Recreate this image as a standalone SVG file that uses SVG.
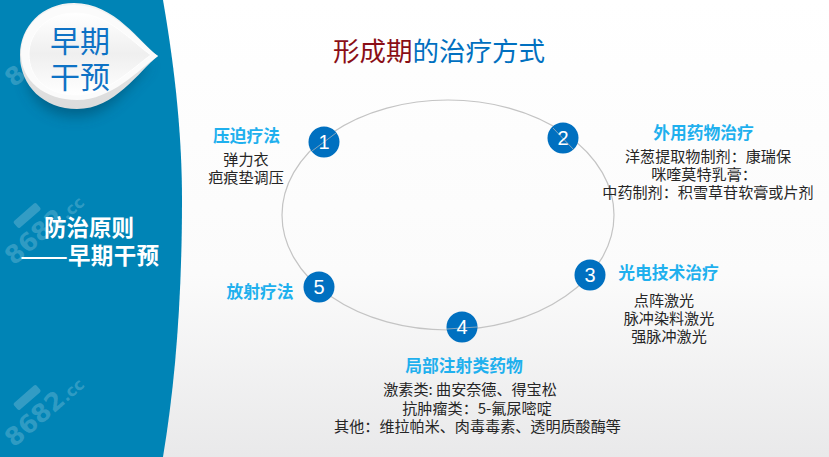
<svg xmlns="http://www.w3.org/2000/svg" width="829" height="457" viewBox="0 0 829 457">
<style>
.h{font-family:"Noto Sans CJK SC",sans-serif;font-size:16.8px;font-weight:700;fill:#1fb0ee;text-anchor:middle}
.b{font-family:"Noto Sans CJK SC",sans-serif;font-size:15.1px;fill:#262626;text-anchor:middle}
.n{font-family:"Liberation Sans",sans-serif;font-size:20px;fill:#fff;text-anchor:middle}
.c{fill:#0070c0}
.w{font-family:"DejaVu Sans",sans-serif;font-weight:700;font-size:25px;fill:#fff;fill-opacity:.2}
.w2{font-size:16px}
.t{fill:#fff;fill-opacity:.2}
</style>
<defs>
<linearGradient id="bg" x1="0" y1="0" x2="0" y2="1"><stop offset="0" stop-color="#fff"/><stop offset=".6" stop-color="#fbfbfb"/><stop offset="1" stop-color="#e9e9ea"/></linearGradient>
<linearGradient id="dr" x1="0" y1="0" x2="0" y2="1"><stop offset="0" stop-color="#fff"/><stop offset=".5" stop-color="#efefef"/><stop offset="1" stop-color="#fff"/></linearGradient>
<linearGradient id="dr2" x1="0" y1="0" x2="0" y2="1"><stop offset="0" stop-color="#f4f4f4"/><stop offset=".6" stop-color="#e2e2e2"/><stop offset="1" stop-color="#dcdcdc"/></linearGradient>
<filter id="sh" x="-30%" y="-30%" width="160%" height="170%"><feGaussianBlur stdDeviation="7"/></filter>
</defs>
<rect width="829" height="457" fill="url(#bg)"/>
<path id="sidebar" d="M0 0H163C176 75 182 140 182 200C182 300 175 385 163 457H0Z" fill="#0084b6"/>
<g transform="rotate(-41 14 448)"><text class="w" x="14" y="448">8682<tspan class="w2">.cc</tspan></text><rect class="t" x="42" y="414" width="30" height="9" rx="2"/></g>
<g transform="rotate(-41 14 266)"><text class="w" x="14" y="266">8682<tspan class="w2">.cc</tspan></text><rect class="t" x="42" y="232" width="30" height="9" rx="2"/></g>
<g transform="rotate(-41 14 88)"><text class="w" x="14" y="88" fill-opacity=".15">86</text></g>
<g id="drop">
<path d="M150 64C128 84 112 116 76 116C48 116 30 100 26 74Z" fill="#00405c" opacity=".5" filter="url(#sh)"/>
<path d="M158 56C140 43 115 3 74 3C42 3 20 27 20 55C20 86 44 109 77 109C115 109 138 72 158 56Z" fill="url(#dr2)"/>
<path d="M158 56C140 44 115 5 74 5C42 5 21 27 21 54C21 80 44 100 77 100C112 100 138 70 158 56Z" fill="#fbfbfb"/>
<path d="M151 55C132 42 108 13 75 13C47 13 29 33 29 54C29 78 47 95 76 95C108 95 132 68 151 55Z" fill="url(#dr)" stroke="#fff" stroke-width="1"/>
<text x="80" y="52" font-family="'Noto Sans CJK SC',sans-serif" font-size="30" fill="#0e72c5" text-anchor="middle">早期</text>
<text x="80" y="88" font-family="'Noto Sans CJK SC',sans-serif" font-size="30" fill="#0e72c5" text-anchor="middle">干预</text>
</g>
<g id="sidebar-title" font-family="'Noto Sans CJK SC',sans-serif" font-size="22.5" font-weight="700" fill="#fff">
<text x="89" y="236" text-anchor="middle">防治原则</text>
<text x="20" y="264" textLength="48" lengthAdjust="spacingAndGlyphs">——</text>
<text x="68" y="264" textLength="91">早期干预</text>
</g>
<text id="title" x="439" y="61" font-family="'Noto Sans CJK SC',sans-serif" font-size="26.5" text-anchor="middle" fill="#0070c0"><tspan fill="#8a0e16">形成期</tspan>的治疗方式</text>
<g id="connectors"><ellipse cx="448" cy="215" rx="166" ry="115" fill="none" stroke="#c4c4c4" stroke-width="1.2"/></g>
<g id="node1"><circle class="c" cx="324" cy="142" r="15.5"/><path d="M312 151L336 133" stroke="#bbb" stroke-width=".7"/><text class="n" x="324" y="149">1</text>
<text class="h" x="246.5" y="142">压迫疗法</text><text class="b" x="246" y="165">弹力衣</text><text class="b" x="246" y="183">疤痕垫调压</text></g>
<g id="node2"><circle class="c" cx="563" cy="138" r="15.5"/><path d="M553 128L574 150" stroke="#bbb" stroke-width=".7"/><text class="n" x="563" y="145">2</text>
<text class="h" x="703.5" y="139">外用药物治疗</text><text class="b" x="708" y="162">洋葱提取物制剂：康瑞保</text><text class="b" x="704" y="180">咪喹莫特乳膏：</text><text class="b" x="708" y="198">中药制剂：积雪草苷软膏或片剂</text></g>
<g id="node3"><circle class="c" cx="590" cy="275" r="15.5"/><text class="n" x="590" y="282">3</text>
<text class="h" x="668.5" y="279">光电技术治疗</text><text class="b" x="664" y="306">点阵激光</text><text class="b" x="669" y="324">脉冲染料激光</text><text class="b" x="669" y="342">强脉冲激光</text></g>
<g id="node4"><circle class="c" cx="462" cy="327" r="15.5"/><path d="M447 329L477 327" stroke="#bbb" stroke-width=".7"/><text class="n" x="462" y="334">4</text>
<text class="h" x="464" y="372">局部注射类药物</text><text class="b" x="470" y="395">激素类: 曲安奈德、得宝松</text><text class="b" x="477" y="414">抗肿瘤类：5-氟尿嘧啶</text><text class="b" x="477.5" y="432">其他：维拉帕米、肉毒毒素、透明质酸酶等</text></g>
<g id="node5"><circle class="c" cx="319" cy="287" r="15.5"/><text class="n" x="319" y="294">5</text>
<text class="h" x="260" y="298">放射疗法</text></g>
</svg>
